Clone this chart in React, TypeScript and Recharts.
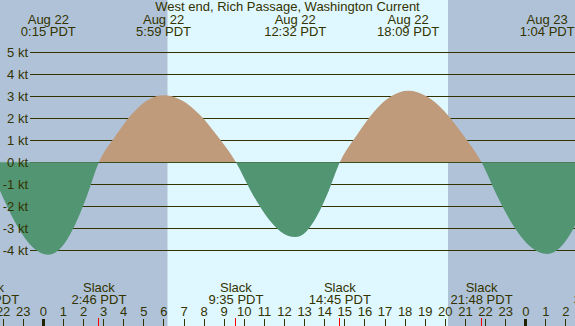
import React from "react";
import {
  ComposedChart,
  Area,
  XAxis,
  YAxis,
  CartesianGrid,
  ReferenceArea,
} from "recharts";

const W = 575;
const H = 326;
const INK = "#333300";
const FONT = "'Liberation Sans', Arial, sans-serif";

// hours since midnight Aug 22 (PDT) and current speed in knots (+ flood, - ebb)
const times = [
  -2.75, -2.0, -1.25, -0.5, 0.25, 0.879, 1.508, 2.138, 2.767, 3.571, 4.375,
  5.179, 5.983, 6.883, 7.783, 8.683, 9.583, 10.321, 11.058, 11.796, 12.533,
  13.087, 13.642, 14.196, 14.75, 15.6, 16.45, 17.3, 18.15, 19.063, 19.975,
  20.888, 21.8, 22.617, 23.433, 24.25, 25.067, 25.738, 26.408, 27.079, 27.75,
];
const speeds = [
  0, -1.61, -2.97, -3.88, -4.2, -3.88, -2.97, -1.61, 0, 1.17, 2.16, 2.82, 3.05,
  2.82, 2.16, 1.17, 0, -1.3, -2.4, -3.14, -3.4, -3.14, -2.4, -1.3, 0, 1.24, 2.3,
  3.0, 3.25, 3.0, 2.3, 1.24, 0, -1.6, -2.95, -3.85, -4.17, -3.85, -2.95, -1.6, 0,
];

const slackTimes = [-2.75, 2.767, 9.583, 14.75, 21.8, 27.75];
const slackLabels = ["21:15 PDT", "2:46 PDT", "9:35 PDT", "14:45 PDT", "21:48 PDT", "3:45 PDT"];

const peakTimes = [0.25, 5.983, 12.533, 18.15, 25.067];
const peakDates = ["Aug 22", "Aug 22", "Aug 22", "Aug 22", "Aug 23"];
const peakLabels = ["0:15 PDT", "5:59 PDT", "12:32 PDT", "18:09 PDT", "1:04 PDT"];

const hourTicks = [
  -2, -1, 0, 1, 2, 3, 4, 5, 6, 7, 8, 9, 10, 11, 12, 13, 14, 15, 16, 17, 18, 19,
  20, 21, 22, 23, 24, 25, 26,
];
const speedTicks = [-4, -3, -2, -1, 0, 1, 2, 3, 4, 5];

const nightSpans = [
  [-3, 6.19],
  [20.13, 27],
];
const daySpan = [6.19, 20.13];

const xDomain = [-2.154, 26.45];
const yDomain = [-7.441, 7.377];

const data = times.map((t, i) => ({ t, v: speeds[i] }));
const zeroOffset = yDomain[1] / (yDomain[1] - yDomain[0]);

const textStyle = { fontFamily: FONT, fontSize: 13, fill: INK };

// one axis carries hour ticks, slack marks (bottom) and peak labels (top)
const TimeTick = (props: any) => {
  const { x, y, payload } = props;
  const v = payload.value;
  const top = y - H;
  const pi = peakTimes.indexOf(v);
  if (pi >= 0) {
    return (
      <g>
        <text x={x} y={top + 24} textAnchor="middle" style={textStyle}>
          {peakDates[pi]}
        </text>
        <text x={x} y={top + 36} textAnchor="middle" style={textStyle}>
          {peakLabels[pi]}
        </text>
      </g>
    );
  }
  const si = slackTimes.indexOf(v);
  if (si >= 0) {
    return (
      <g>
        <line x1={x} x2={x} y1={y - 8} y2={y} stroke="#ff0000" strokeWidth={1} shapeRendering="crispEdges" />
        <text x={x} y={y - 34} textAnchor="middle" style={textStyle}>
          Slack
        </text>
        <text x={x} y={y - 22} textAnchor="middle" style={textStyle}>
          {slackLabels[si]}
        </text>
      </g>
    );
  }
  const h = ((v % 24) + 24) % 24;
  return (
    <g>
      <line
        x1={x} x2={x} y1={y - 7} y2={y}
        stroke={h === 0 ? "#222200" : INK}
        strokeWidth={h === 0 ? 3 : 1}
        shapeRendering="crispEdges"
      />
      <text x={x} y={y - 10} textAnchor="middle" style={textStyle}>
        {h}
      </text>
    </g>
  );
};

const SpeedTick = (props: any) => {
  const { y, payload } = props;
  return (
    <text x={28} y={y} dy={4.5} textAnchor="end" style={textStyle}>
      {payload.value} kt
    </text>
  );
};

const GridLine = (p: any) => {
  const k = p.key ?? p.index;
  // skip the lines the grid adds on the plot's own edges
  if (p.y1 <= 1 || p.y1 >= H - 1) return <g key={k} />;
  return (
    <line
      key={k}
      x1={30} x2={p.x2} y1={p.y1} y2={p.y2}
      stroke={INK} strokeWidth={1}
      shapeRendering="crispEdges"
    />
  );
};

export default function App() {
  return (
    <div style={{ position: "absolute", left: 0, top: 0, width: W, height: H }}>
      <ComposedChart
        width={W}
        height={H}
        data={data}
        margin={{ top: 0, right: 0, bottom: 0, left: 0 }}
      >
        <defs>
          <linearGradient id="flow" gradientUnits="userSpaceOnUse" x1={0} y1={0} x2={0} y2={H}>
            <stop offset={0} stopColor="#bf9b7b" />
            <stop offset={zeroOffset} stopColor="#bf9b7b" />
            <stop offset={zeroOffset} stopColor="#529572" />
            <stop offset={1} stopColor="#529572" />
          </linearGradient>
        </defs>
        {nightSpans.map(([a, b], i) => (
          <ReferenceArea
            key={`n${i}`}
            x1={a} x2={b}
            fill="#afc2d8" fillOpacity={1} stroke="none"
            ifOverflow="hidden"
            zIndex={-150}
          />
        ))}
        <ReferenceArea
          x1={daySpan[0]} x2={daySpan[1]}
          fill="#dff7ff" fillOpacity={1} stroke="none"
          ifOverflow="hidden"
          zIndex={-150}
        />
        <CartesianGrid vertical={false} horizontal={GridLine} />
        <XAxis
          dataKey="t"
          type="number"
          domain={xDomain}
          allowDataOverflow
          ticks={[...hourTicks, ...slackTimes, ...peakTimes]}
          interval={0}
          orientation="bottom"
          mirror
          tickSize={0}
          tickMargin={0}
          axisLine={false}
          tickLine={false}
          tick={<TimeTick />}
        />
        <YAxis
          type="number"
          domain={yDomain}
          allowDataOverflow
          ticks={speedTicks}
          interval={0}
          mirror
          tickSize={0}
          tickMargin={0}
          axisLine={false}
          tickLine={false}
          tick={<SpeedTick />}
        />
        <Area
          type="monotone"
          dataKey="v"
          baseValue={0}
          stroke="none"
          fill="url(#flow)"
          fillOpacity={1}
          dot={false}
          activeDot={false}
          isAnimationActive={false}
        />
      </ComposedChart>
      <svg
        width={W}
        height={H}
        style={{ position: "absolute", left: 0, top: 0, pointerEvents: "none" }}
      >
        <text x={W / 2} y={11} textAnchor="middle" style={textStyle}>
          West end, Rich Passage, Washington Current
        </text>
      </svg>
    </div>
  );
}
